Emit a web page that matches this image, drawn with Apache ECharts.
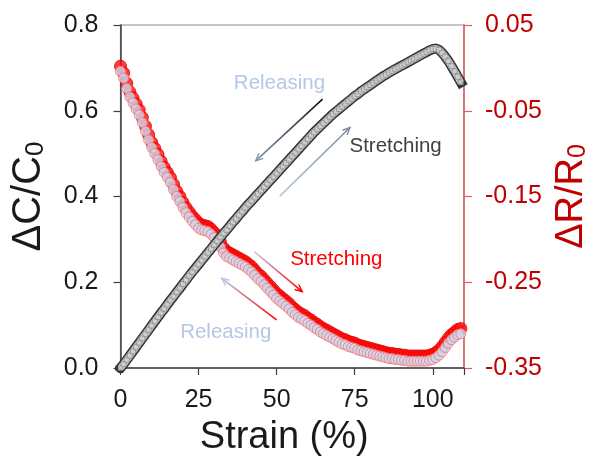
<!DOCTYPE html>
<html>
<head>
<meta charset="utf-8">
<script src="https://cdn.jsdelivr.net/npm/echarts@6/dist/echarts.min.js"></script>
<style>
html,body{margin:0;padding:0;background:#fff;}
#chart{width:594px;height:461px;}
</style>
</head>
<body>
<div id="chart"></div>
<script>
// Strain (%) sample positions (shared by all series)
const strain = [0,1,2,3,4,5,6,7,8,9,10,11,12,13,14,15,16,17,18,19,20,21,22,23,24,25,26,27,28,29,30,31,32,33,34,35,36,37,38,39,40,41,42,43,44,45,46,47,48,49,50,51,52,53,54,55,56,57,58,59,60,61,62,63,64,65,66,67,68,69,70,71,72,73,74,75,76,77,78,79,80,81,82,83,84,85,86,87,88,89,90,91,92,93,94,95,96,97,98,99,100,101,102,103,104,105,106,107,108,109];

// ΔC/C0 (left axis)
const dCC0 = [0.000,0.009,0.019,0.029,0.039,0.049,0.059,0.069,0.079,0.089,0.099,0.109,0.119,0.129,0.138,0.148,0.158,0.167,0.177,0.186,0.196,0.205,0.215,0.224,0.233,0.242,0.251,0.260,0.269,0.278,0.287,0.296,0.305,0.314,0.322,0.331,0.340,0.348,0.357,0.365,0.374,0.382,0.390,0.398,0.406,0.414,0.422,0.430,0.438,0.446,0.454,0.462,0.470,0.478,0.486,0.494,0.502,0.510,0.518,0.526,0.534,0.542,0.550,0.557,0.564,0.571,0.578,0.585,0.592,0.598,0.604,0.610,0.616,0.622,0.628,0.634,0.639,0.645,0.650,0.655,0.660,0.665,0.670,0.675,0.680,0.684,0.689,0.693,0.697,0.701,0.705,0.709,0.713,0.717,0.721,0.725,0.729,0.733,0.737,0.741,0.744,0.745,0.742,0.735,0.726,0.716,0.704,0.692,0.679,0.666];

// ΔR/R0 (right axis) - stretching
const dRR0Stretch = [0.002,-0.006,-0.018,-0.028,-0.035,-0.042,-0.049,-0.058,-0.068,-0.078,-0.087,-0.094,-0.101,-0.109,-0.116,-0.122,-0.128,-0.136,-0.144,-0.150,-0.157,-0.163,-0.168,-0.173,-0.177,-0.181,-0.183,-0.184,-0.185,-0.188,-0.192,-0.196,-0.203,-0.210,-0.214,-0.216,-0.218,-0.220,-0.222,-0.224,-0.226,-0.229,-0.232,-0.236,-0.240,-0.243,-0.247,-0.251,-0.255,-0.259,-0.263,-0.266,-0.269,-0.272,-0.275,-0.279,-0.282,-0.285,-0.287,-0.289,-0.292,-0.294,-0.297,-0.299,-0.302,-0.304,-0.306,-0.308,-0.310,-0.312,-0.314,-0.316,-0.317,-0.319,-0.320,-0.321,-0.323,-0.324,-0.325,-0.326,-0.327,-0.328,-0.329,-0.330,-0.331,-0.332,-0.333,-0.333,-0.334,-0.334,-0.335,-0.335,-0.336,-0.336,-0.336,-0.336,-0.336,-0.336,-0.336,-0.335,-0.334,-0.332,-0.329,-0.325,-0.320,-0.315,-0.311,-0.308,-0.305,-0.304];

// ΔR/R0 (right axis) - releasing
const dRR0Release = [-0.004,-0.012,-0.024,-0.034,-0.041,-0.048,-0.055,-0.064,-0.074,-0.084,-0.093,-0.100,-0.107,-0.115,-0.122,-0.128,-0.134,-0.142,-0.150,-0.156,-0.163,-0.169,-0.174,-0.179,-0.183,-0.187,-0.189,-0.190,-0.191,-0.194,-0.198,-0.202,-0.209,-0.216,-0.220,-0.222,-0.224,-0.226,-0.228,-0.230,-0.232,-0.235,-0.238,-0.242,-0.246,-0.249,-0.253,-0.257,-0.261,-0.265,-0.269,-0.272,-0.275,-0.278,-0.281,-0.285,-0.288,-0.291,-0.293,-0.295,-0.298,-0.300,-0.303,-0.305,-0.308,-0.310,-0.312,-0.314,-0.316,-0.318,-0.320,-0.322,-0.323,-0.325,-0.326,-0.327,-0.329,-0.330,-0.331,-0.332,-0.333,-0.334,-0.335,-0.336,-0.337,-0.338,-0.339,-0.339,-0.340,-0.340,-0.341,-0.341,-0.342,-0.342,-0.342,-0.342,-0.342,-0.342,-0.342,-0.341,-0.340,-0.338,-0.335,-0.331,-0.326,-0.321,-0.317,-0.314,-0.311,-0.310];

const xTicks = [0,25,50,75,100];
const leftTicks = [0.0,0.2,0.4,0.6,0.8];
const rightTicks = [-0.35,-0.25,-0.15,-0.05,0.05];

const FONT = 'Liberation Sans, Arial, sans-serif';
const chart = echarts.init(document.getElementById('chart'), null, {renderer:'canvas'});

function pairs(ys){ return strain.map((x,i)=>[x, ys[i]]); }

chart.setOption({
  animation:false,
  backgroundColor:'#ffffff',
  grid:{left:120.5, right:130, top:25, bottom:93, show:true, borderColor:'#8c8c8c', borderWidth:1.2,
        outerBoundsMode:'none', containLabel:false},
  xAxis:{
    type:'value', min:xTicks[0], max:110, interval:25,
    axisLine:{lineStyle:{color:'#404040', width:1.5}},
    axisTick:{length:7, lineStyle:{color:'#404040', width:1.2}},
    axisLabel:{fontSize:25, color:'#1a1a1a', margin:20, fontFamily:FONT,
      formatter:v=> xTicks.indexOf(v)>=0 ? String(v) : ''},
    splitLine:{show:false},
    name:'Strain (%)', nameLocation:'middle', nameGap:51,
    nameTextStyle:{fontSize:38, color:'#1a1a1a', fontFamily:FONT, padding:[0,16,0,0]}
  },
  yAxis:[{
    type:'value', min:leftTicks[0], max:leftTicks[4], interval:0.2, position:'left',
    axisLine:{show:true, lineStyle:{color:'#404040', width:1.5}},
    axisTick:{show:true, length:7, lineStyle:{color:'#404040', width:1.2}},
    axisLabel:{fontSize:25, color:'#1a1a1a', margin:22, fontFamily:FONT, formatter:v=>v.toFixed(1)},
    splitLine:{show:false},
    name:'{a|ΔC/C}{b|0}', nameLocation:'middle', nameRotate:90, nameGap:72,
    nameTextStyle:{color:'#1a1a1a', fontFamily:FONT,
      rich:{a:{fontSize:40, lineHeight:44, verticalAlign:'bottom', color:'#1a1a1a', fontFamily:FONT},
            b:{fontSize:26, lineHeight:26, verticalAlign:'bottom', color:'#1a1a1a', fontFamily:FONT}}}
  },{
    type:'value', min:rightTicks[0], max:rightTicks[4], interval:0.1, position:'right',
    axisLine:{show:true, lineStyle:{color:'#e65c5c', width:1.5}},
    axisTick:{show:true, length:8, lineStyle:{color:'#e65c5c', width:1.2}},
    axisLabel:{fontSize:25, color:'#c00000', margin:21, fontFamily:FONT, formatter:v=>v.toFixed(2)},
    splitLine:{show:false},
    name:'{a|ΔR/R}{b|0}', nameLocation:'middle', nameRotate:90, nameGap:80,
    nameTextStyle:{color:'#c00000', fontFamily:FONT,
      rich:{a:{fontSize:38, lineHeight:42, verticalAlign:'bottom', color:'#c00000', fontFamily:FONT},
            b:{fontSize:25, lineHeight:25, verticalAlign:'bottom', color:'#c00000', fontFamily:FONT}}}
  }],
  series:[{
    name:'ΔR/R0 stretching', type:'scatter', yAxisIndex:1, z:2,
    data:pairs(dRR0Stretch), symbol:'circle', symbolSize:12,
    itemStyle:{color:'#ff0d0d', borderColor:'#e00000', borderWidth:1}
  },{
    name:'ΔR/R0 releasing', type:'scatter', yAxisIndex:1, z:3,
    data:pairs(dRR0Release), symbol:'circle', symbolSize:10,
    itemStyle:{color:'#cadcf0', borderColor:'#ff6a6a', borderWidth:1}
  },{
    name:'ΔC/C0 edge', type:'line', yAxisIndex:0, z:4, showSymbol:false, silent:true,
    data:pairs(dCC0), lineStyle:{color:'#333333', width:10, cap:'square', join:'round'}
  },{
    name:'ΔC/C0 core', type:'line', yAxisIndex:0, z:5, showSymbol:false, silent:true,
    data:pairs(dCC0), lineStyle:{color:'#c2c2c2', width:7, join:'round'}
  },{
    name:'ΔC/C0', type:'scatter', yAxisIndex:0, z:6,
    data:pairs(dCC0), symbol:'rect', symbolSize:5,
    itemStyle:{color:'#d2d2d2', borderColor:'#6e6e6e', borderWidth:0.6}
  }]
});

// Annotations (arrows + labels) placed in data coordinates
const arrows = [
  {from:[64.7,0.627], to:[43.3,0.483], c0:'#111111', c1:'#8497b0'},
  {from:[51.0,0.401], to:[73.5,0.561], c0:'#b4c7e7', c1:'#7f8ca0'},
  {from:[42.9,0.271], to:[58.2,0.178], c0:'#c9c9e8', c1:'#ff0000'},
  {from:[50.0,0.112], to:[32.4,0.209], c0:'#ff0000', c1:'#b4c7e7'}
];
const notes = [
  {text:'Releasing', at:[50.9,0.663], color:'#b4c7e7'},
  {text:'Stretching', at:[88.1,0.517], color:'#404040'},
  {text:'Stretching', at:[69.1,0.254], color:'#ff0000'},
  {text:'Releasing', at:[33.7,0.084], color:'#b4c7e7'}
];
const P = p => chart.convertToPixel({xAxisIndex:0, yAxisIndex:0}, p);
const graphics = [];
arrows.forEach(a=>{
  const s = P(a.from), e = P(a.to);
  const grad = new echarts.graphic.LinearGradient(s[0], s[1], e[0], e[1],
    [{offset:0,color:a.c0},{offset:1,color:a.c1}], true);
  graphics.push({type:'line', shape:{x1:s[0],y1:s[1],x2:e[0],y2:e[1]}, style:{stroke:grad, lineWidth:1.6}, z:10});
  const ang = Math.atan2(e[1]-s[1], e[0]-s[0]);
  const L = 8, w = 0.42;
  const p1 = [e[0]-L*Math.cos(ang-w), e[1]-L*Math.sin(ang-w)];
  const p2 = [e[0]-L*Math.cos(ang+w), e[1]-L*Math.sin(ang+w)];
  graphics.push({type:'polyline', shape:{points:[p1,e,p2]}, style:{stroke:a.c1, lineWidth:1.4, fill:null}, z:10});
});
notes.forEach(n=>{
  const p = P(n.at);
  graphics.push({type:'text', x:p[0], y:p[1], z:11,
    style:{text:n.text, fill:n.color, font:'20.5px '+FONT, textAlign:'center', textVerticalAlign:'middle'}});
});
chart.setOption({graphic:graphics});
</script>
</body>
</html>
